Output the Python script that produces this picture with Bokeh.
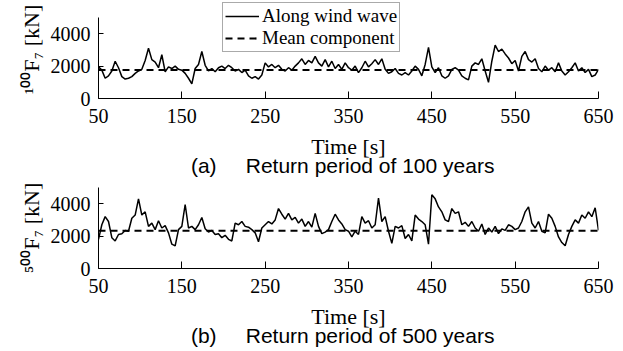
from bokeh.plotting import figure
from bokeh.models import Legend, LegendItem, LinearAxis, FixedTicker
from bokeh.layouts import column
from bokeh.embed import file_html
from bokeh.resources import INLINE

# sampling grid (s)
time_s = list(range(50, 651, 4))

# along-wind-wave force, return period 100 years (kN)
force_100 = [
    1950, 1750, 1250, 1400, 1700, 2300, 1900, 1350, 1200, 1250,
    1350, 1550, 1700, 1800, 2350, 3100, 2400, 2250, 1900, 2700,
    1650, 1950, 1850, 2000, 1800, 1750, 1550, 1250, 900, 1850,
    2100, 2900, 2050, 1700, 1850, 1650, 1900, 2000, 1850, 2050,
    1900, 1700, 1800, 1600, 1750, 1400, 1250, 1350, 1200, 1450,
    2200, 1950, 2100, 1900, 2050, 1800, 1700, 1900, 1750, 2000,
    2200, 2450, 2100, 2350, 2200, 2600, 2200, 2000, 2400, 1950,
    2300, 1850, 2100, 1800, 2200, 1900, 1750, 2000, 1600, 1900,
    2300, 1950, 2150, 2400, 2100, 2450, 1800, 1550, 1650, 1850,
    1550, 1450, 1600, 1450, 1700, 2000, 1800, 1400, 2100, 3150,
    1950, 1600, 1900, 1400, 1250, 1400, 1800, 1900, 1750, 1400,
    1250, 1150, 2000, 2200, 2100, 2450, 1700, 1000, 2300, 3300,
    2900, 3050, 2750, 2500, 2150, 2350, 1700, 2600, 2900, 2400,
    2250, 2450, 1850, 1650, 2000, 1750, 1900, 1650, 2200, 1700,
    1450, 1650, 1900, 2200, 1700, 1900, 1600, 1800, 1350, 1450,
    1800,
]

# along-wind-wave force, return period 500 years (kN)
force_500 = [
    1800, 2700, 3200, 2900, 1900, 1700, 2100, 2150, 2350, 2300,
    3100, 3300, 4300, 3300, 3500, 2600, 2800, 2400, 2950, 2500,
    2650, 2200, 1500, 1400, 2400, 2600, 3950, 2500, 2600, 2400,
    2700, 3150, 2450, 2250, 2350, 2100, 2150, 1900, 2050, 1800,
    1700, 2800, 2700, 2900, 2600, 2550, 2400, 2200, 1650, 2500,
    2700, 2900, 2750, 3000, 3700, 3350, 3050, 3400, 3000, 3150,
    2800, 3050, 2600, 2900, 2550, 3400, 2600, 2150, 2250, 2400,
    2900, 3350, 3000, 2750, 2400, 2300, 1950, 2300, 2100, 3200,
    2800, 2950, 2500, 2700, 4350, 2900, 3200, 2300, 1550, 2600,
    2500, 2650, 1850, 2100, 1700, 3300, 3050, 2900, 2700, 1500,
    4550, 4300, 3800, 3500, 3000, 2900, 3700, 3400, 3500, 2700,
    2850, 2600, 2900, 2500, 2300, 2750, 2100, 2500, 2250, 2600,
    2150, 2450, 2350, 2700, 2600, 2400, 2500, 2900, 3500, 3800,
    2800, 2500, 2900, 2300, 2200, 3350, 3100, 2600, 1950, 1600,
    1400, 2100, 2600, 3000, 2800, 3300, 3100, 3500, 3200, 3750,
    2350,
]

# mean components (kN)
mean_100 = 1760
mean_500 = 2330

x_ticks = [50, 150, 250, 350, 450, 550, 650]
y_ticks = [0, 2000, 4000]
x_range = (50, 650)
y_axis_max = 5000

SERIF = "Liberation Serif"
SANS = "Liberation Sans"

AXIS_PX = 81  # pixel height of the drawn y axis (0..5000)


def panel(series, mean, ylabel, caption, top, extra_top, bottom, with_legend):
    # extra_top: pixels of frame above the drawn axis (room for the legend)
    y_top = y_axis_max * (AXIS_PX + extra_top) / AXIS_PX
    p = figure(output_backend="svg", toolbar_location=None,
               frame_width=500, frame_height=AXIS_PX + extra_top,
               min_border_left=98, min_border_right=25,
               min_border_top=top, min_border_bottom=bottom,
               x_range=x_range, y_range=(0, y_top))
    p.outline_line_color = None
    p.grid.visible = False
    p.background_fill_color = "white"
    p.border_fill_color = "white"

    r1 = p.line(time_s, series, line_color="black", line_width=1.5)
    r2 = p.line([time_s[0], time_s[-1]], [mean, mean], line_color="black",
                line_width=2.2, line_dash="7 5")

    for ax in (p.xaxis[0], p.yaxis[0]):
        ax.axis_line_color = "black"
        ax.axis_line_width = 1
        ax.major_tick_line_color = "black"
        ax.minor_tick_line_color = None
        ax.major_label_text_font = SERIF
        ax.major_label_text_font_size = "20px"
        ax.major_label_text_color = "black"
        ax.axis_label_text_font = SERIF
        ax.axis_label_text_font_style = "normal"
        ax.axis_label_text_font_size = "22px"
        ax.axis_label_text_color = "black"

    p.xaxis.ticker = FixedTicker(ticks=x_ticks)
    p.yaxis.ticker = FixedTicker(ticks=y_ticks)
    p.yaxis.bounds = (0, y_axis_max)
    p.xaxis.major_tick_in = 7
    p.xaxis.major_tick_out = 0
    p.yaxis.major_tick_in = 5
    p.yaxis.major_tick_out = 0
    p.xaxis.major_label_standoff = 10
    p.yaxis.major_label_standoff = 8
    p.xaxis.axis_label = "Time [s]"
    p.xaxis.axis_label_standoff = 8
    p.yaxis.axis_label = ylabel
    p.yaxis.axis_label_standoff = 4

    cap = LinearAxis(ticker=FixedTicker(ticks=[]), axis_label=caption,
                     axis_line_color=None, major_tick_line_color=None,
                     minor_tick_line_color=None,
                     major_label_text_font_size="0px",
                     axis_label_text_font=SANS, axis_label_text_font_size="21px",
                     axis_label_text_font_style="normal",
                     axis_label_text_color="black", axis_label_standoff=-8)
    p.add_layout(cap, "below")

    if with_legend:
        leg = Legend(items=[LegendItem(label="Along wind wave", renderers=[r1]),
                            LegendItem(label="Mean component", renderers=[r2])],
                     location=(124, 46), orientation="vertical",
                     label_text_font=SERIF, label_text_font_size="19px",
                     label_text_color="black",
                     label_height=18, glyph_height=18, glyph_width=34,
                     label_standoff=3, spacing=0, padding=2, margin=0,
                     border_line_color="#555555", border_line_width=1,
                     background_fill_color="white", background_fill_alpha=1)
        p.add_layout(leg)
    return p


NB = "\u00a0"
p_top = panel(force_100, mean_100, "\u00b9\u2070\u2070F\u2087 [kN]",
              "(a)" + NB * 5 + "Return period of 100 years" + NB * 2,
              0, 17, 80, True)
p_bot = panel(force_500, mean_500, "\u2075\u2070\u2070F\u2087 [kN]",
              "(b)" + NB * 5 + "Return period of 500 years" + NB * 2,
              8, 0, 84, False)

layout = column(p_top, p_bot, spacing=0)
open("out.html", "w").write(file_html(layout, INLINE))
